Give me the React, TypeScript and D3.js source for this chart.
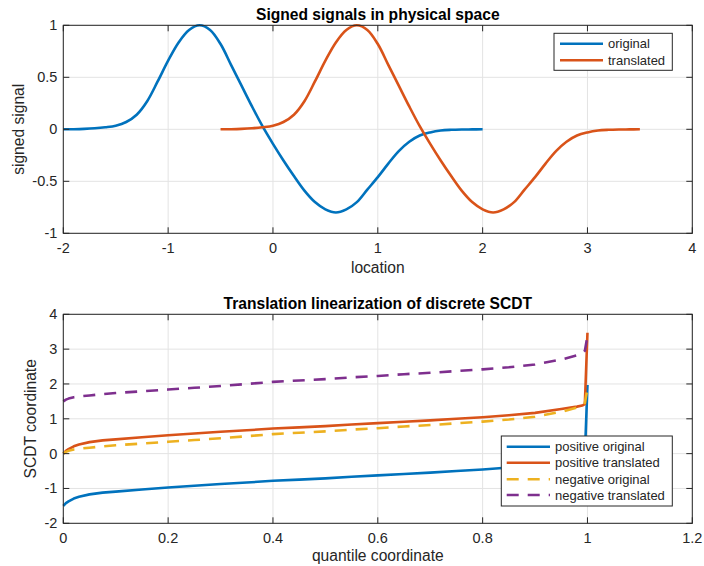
import React from 'react'
import * as d3 from 'd3'

// top panel: signal samples
const originalX = [-2.0, -1.9, -1.8, -1.7, -1.6, -1.5, -1.4, -1.3, -1.2, -1.1, -1.0, -0.9, -0.8, -0.7, -0.6, -0.5, -0.4, -0.3, -0.2, -0.1, 0.0, 0.1, 0.2, 0.3, 0.4, 0.5, 0.6, 0.7, 0.8, 0.9, 1.0, 1.1, 1.2, 1.3, 1.4, 1.5, 1.6, 1.7, 1.8, 1.9, 2.0]
const originalY = [0, 0.001, 0.004, 0.01, 0.02, 0.035, 0.07, 0.14, 0.27, 0.46, 0.66, 0.835, 0.955, 1.0, 0.955, 0.82, 0.62, 0.42, 0.22, 0.03, -0.14, -0.3, -0.45, -0.59, -0.7, -0.77, -0.8, -0.77, -0.7, -0.58, -0.46, -0.33, -0.21, -0.12, -0.06, -0.03, -0.012, -0.005, -0.002, -0.001, 0]
const translatedX = [-0.5, -0.4, -0.3, -0.2, -0.1, 0.0, 0.1, 0.2, 0.3, 0.4, 0.5, 0.6, 0.7, 0.8, 0.9, 1.0, 1.1, 1.2, 1.3, 1.4, 1.5, 1.6, 1.7, 1.8, 1.9, 2.0, 2.1, 2.2, 2.3, 2.4, 2.5, 2.6, 2.7, 2.8, 2.9, 3.0, 3.1, 3.2, 3.3, 3.4, 3.5]
const translatedY = [0, 0.001, 0.004, 0.01, 0.02, 0.035, 0.07, 0.14, 0.27, 0.46, 0.66, 0.835, 0.955, 1.0, 0.955, 0.82, 0.62, 0.42, 0.22, 0.03, -0.14, -0.3, -0.45, -0.59, -0.7, -0.77, -0.8, -0.77, -0.7, -0.58, -0.46, -0.33, -0.21, -0.12, -0.06, -0.03, -0.012, -0.005, -0.002, -0.001, 0]

// bottom panel: SCDT coordinates vs quantile
const quantiles = [0, 0.005, 0.01, 0.02, 0.03, 0.05, 0.075, 0.1, 0.15, 0.2, 0.25, 0.3, 0.35, 0.4, 0.45, 0.5, 0.55, 0.6, 0.65, 0.7, 0.75, 0.8, 0.85, 0.9, 0.95, 0.98, 0.99, 0.995, 1.0]
const posOriginal = [-1.5, -1.42, -1.37, -1.29, -1.24, -1.17, -1.12, -1.09, -1.03, -0.97, -0.92, -0.87, -0.83, -0.78, -0.745, -0.71, -0.665, -0.625, -0.585, -0.545, -0.5, -0.455, -0.4, -0.33, -0.22, -0.15, -0.12, -0.08, 1.97]
const posTranslated = [0, 0.08, 0.13, 0.21, 0.26, 0.33, 0.38, 0.41, 0.47, 0.53, 0.58, 0.63, 0.67, 0.72, 0.755, 0.79, 0.835, 0.875, 0.915, 0.955, 1.0, 1.045, 1.1, 1.17, 1.28, 1.35, 1.38, 1.42, 3.47]
const negOriginal = [0, 0.05, 0.08, 0.12, 0.14, 0.17, 0.21, 0.24, 0.29, 0.34, 0.39, 0.44, 0.5, 0.56, 0.6, 0.64, 0.69, 0.73, 0.78, 0.82, 0.87, 0.92, 0.98, 1.06, 1.2, 1.32, 1.37, 1.45, 1.88]
const negTranslated = [1.5, 1.55, 1.58, 1.62, 1.64, 1.67, 1.71, 1.74, 1.79, 1.84, 1.89, 1.94, 2.0, 2.06, 2.1, 2.14, 2.19, 2.23, 2.28, 2.32, 2.37, 2.42, 2.48, 2.56, 2.7, 2.82, 2.87, 2.95, 3.38]

const topXTicks = [-2, -1, 0, 1, 2, 3, 4]
const topYTicks = [-1, -0.5, 0, 0.5, 1]
const botXTicks = [0, 0.2, 0.4, 0.6, 0.8, 1, 1.2]
const botYTicks = [-2, -1, 0, 1, 2, 3, 4]

const BLUE = '#0072BD'
const ORANGE = '#D95319'
const YELLOW = '#EDB120'
const PURPLE = '#7E2F8E'
const AXIS = '#262626'
const GRID = '#e3e3e3'
const FONT = '"Liberation Sans", Arial, Helvetica, sans-serif'

type Series = {name: string, xs: number[], ys: number[], color: string, dash?: string}

function Panel(props: {
  top: number, bottom: number, left: number, right: number,
  xDomain: [number, number], yDomain: [number, number],
  xTicks: number[], yTicks: number[], smooth?: boolean,
  title: string, xLabel: string, yLabel: string, yLabelX: number, xLabelDy: number,
  series: Series[], legend: {x: number, y: number, w: number, h: number, lineX1: number, lineX2: number, textX: number, rowY: number[]}
}) {
  const {top, bottom, left, right} = props
  const x = d3.scaleLinear().domain(props.xDomain).range([left, right])
  const y = d3.scaleLinear().domain(props.yDomain).range([bottom, top])
  const line = d3.line<[number, number]>()
    .x(d => x(d[0]))
    .y(d => y(d[1]))
    .curve(props.smooth ? d3.curveCatmullRom.alpha(0.5) : d3.curveLinear)
  const tickLen = 6
  const lg = props.legend
  return (
    <g fontFamily={FONT}>
      {props.xTicks.map(t => (
        <line key={'gx' + t} x1={x(t)} x2={x(t)} y1={top} y2={bottom} stroke={GRID} strokeWidth={1} />
      ))}
      {props.yTicks.map(t => (
        <line key={'gy' + t} x1={left} x2={right} y1={y(t)} y2={y(t)} stroke={GRID} strokeWidth={1} />
      ))}
      {props.series.map(s => (
        <path key={s.name} d={line(s.xs.map((v, i) => [v, s.ys[i]] as [number, number])) || ''}
          fill="none" stroke={s.color} strokeWidth={2.6} strokeDasharray={s.dash} strokeLinejoin="round" />
      ))}
      <rect x={left} y={top} width={right - left} height={bottom - top} fill="none" stroke={AXIS} strokeWidth={1} />
      {props.xTicks.map(t => (
        <g key={'tx' + t}>
          <line x1={x(t)} x2={x(t)} y1={bottom} y2={bottom - tickLen} stroke={AXIS} />
          <line x1={x(t)} x2={x(t)} y1={top} y2={top + tickLen} stroke={AXIS} />
          <text x={x(t)} y={bottom + 20} textAnchor="middle" fontSize={14.5} fill={AXIS}>{String(t)}</text>
        </g>
      ))}
      {props.yTicks.map(t => (
        <g key={'ty' + t}>
          <line x1={left} x2={left + tickLen} y1={y(t)} y2={y(t)} stroke={AXIS} />
          <line x1={right} x2={right - tickLen} y1={y(t)} y2={y(t)} stroke={AXIS} />
          <text x={left - 6} y={y(t) + 5} textAnchor="end" fontSize={14.5} fill={AXIS}>{String(t)}</text>
        </g>
      ))}
      <text x={(left + right) / 2} y={top - 5} textAnchor="middle" fontSize={15.6} fontWeight="bold" fill="#000">{props.title}</text>
      <text x={(left + right) / 2} y={bottom + props.xLabelDy} textAnchor="middle" fontSize={15.6} fill={AXIS}>{props.xLabel}</text>
      <text transform={`translate(${props.yLabelX},${(top + bottom) / 2}) rotate(-90)`} textAnchor="middle" fontSize={15.6} fill={AXIS}>{props.yLabel}</text>
      <rect x={lg.x} y={lg.y} width={lg.w} height={lg.h} fill="#fff" stroke={AXIS} strokeWidth={1} />
      {props.series.map((s, i) => (
        <g key={'lg' + s.name}>
          <line x1={lg.lineX1} x2={lg.lineX2} y1={lg.rowY[i]} y2={lg.rowY[i]} stroke={s.color} strokeWidth={2.6} strokeDasharray={s.dash} />
          <text x={lg.textX} y={lg.rowY[i] + 4.5} fontSize={13} fill={AXIS}>{s.name}</text>
        </g>
      ))}
    </g>
  )
}

export default function App() {
  const dash = '12,9'
  return (
    <svg width={704} height={566} style={{position: 'absolute', left: 0, top: 0, background: '#fff'}}>
      <Panel top={25.3} bottom={233.3} left={63.3} right={692.3}
        xDomain={[-2, 4]} yDomain={[-1, 1]} xTicks={topXTicks} yTicks={topYTicks} smooth
        title="Signed signals in physical space" xLabel="location" yLabel="signed signal" yLabelX={23.5} xLabelDy={40}
        series={[
          {name: 'original', xs: originalX, ys: originalY, color: BLUE},
          {name: 'translated', xs: translatedX, ys: translatedY, color: ORANGE}
        ]}
        legend={{x: 554, y: 33.3, w: 118.3, h: 37, lineX1: 560, lineX2: 603, textX: 608, rowY: [43.7, 60.3]}}
      />
      <Panel top={314.3} bottom={523.3} left={63.3} right={692.3}
        xDomain={[0, 1.2]} yDomain={[-2, 4]} xTicks={botXTicks} yTicks={botYTicks}
        title="Translation linearization of discrete SCDT" xLabel="quantile coordinate" yLabel="SCDT coordinate" yLabelX={35.5} xLabelDy={38}
        series={[
          {name: 'positive original', xs: quantiles, ys: posOriginal, color: BLUE},
          {name: 'positive translated', xs: quantiles, ys: posTranslated, color: ORANGE},
          {name: 'negative original', xs: quantiles, ys: negOriginal, color: YELLOW, dash},
          {name: 'negative translated', xs: quantiles, ys: negTranslated, color: PURPLE, dash}
        ]}
        legend={{x: 501.3, y: 436, w: 171, h: 70, lineX1: 506.7, lineX2: 550, textX: 555, rowY: [446.7, 462.7, 479.3, 495]}}
      />
    </svg>
  )
}
